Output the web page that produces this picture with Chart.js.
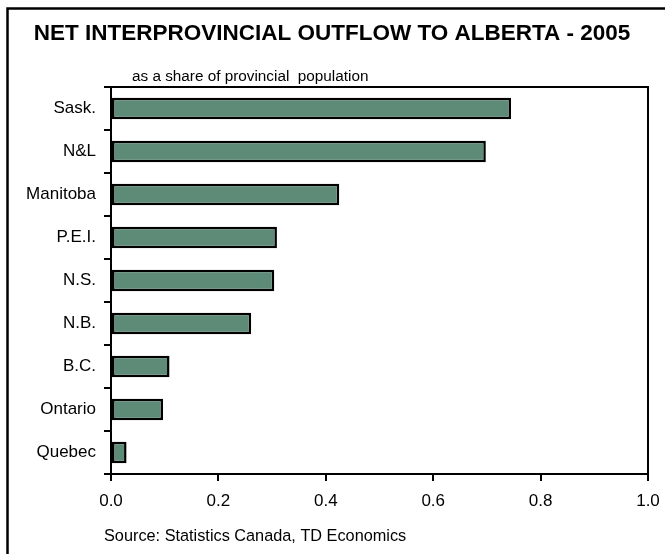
<!DOCTYPE html>
<html>
<head>
<meta charset="utf-8">
<script src="https://cdn.jsdelivr.net/npm/chart.js@4/dist/chart.umd.min.js"></script>
<style>
html,body{margin:0;padding:0;background:#fff;}
#wrap{position:relative;width:665px;height:554px;}
</style>
</head>
<body>
<div id="wrap"><canvas id="c" width="665" height="554"></canvas></div>
<script>
const categories = ["Sask.", "N&L", "Manitoba", "P.E.I.", "N.S.", "N.B.", "B.C.", "Ontario", "Quebec"];
const outflowShare = [0.745, 0.698, 0.425, 0.309, 0.304, 0.261, 0.109, 0.097, 0.029];
const xTicks = [0.0, 0.2, 0.4, 0.6, 0.8, 1.0];
const titleText = "NET INTERPROVINCIAL OUTFLOW TO ALBERTA - 2005";
const subtitleText = "as a share of provincial  population";
const sourceText = "Source: Statistics Canada, TD Economics";

const FONT = "'Liberation Sans', Arial, sans-serif";

const decor = {
  id: 'decor',
  beforeDraw(chart) {
    const ctx = chart.ctx;
    ctx.save();
    ctx.fillStyle = '#fff';
    ctx.fillRect(0, 0, chart.width, chart.height);
    ctx.restore();
  },
  afterDraw(chart) {
    const ctx = chart.ctx;
    const a = chart.chartArea;
    ctx.save();
    // outer frame (top and left visible)
    ctx.strokeStyle = '#000';
    ctx.lineWidth = 2.5;
    ctx.beginPath();
    ctx.moveTo(7.5, chart.height + 5);
    ctx.lineTo(7.5, 8.5);
    ctx.lineTo(chart.width + 5, 8.5);
    ctx.stroke();
    // plot box top and right
    ctx.lineWidth = 2;
    ctx.beginPath();
    ctx.moveTo(a.left, a.top);
    ctx.lineTo(a.right, a.top);
    ctx.lineTo(a.right, a.bottom);
    ctx.stroke();
    // texts
    ctx.fillStyle = '#000';
    ctx.textBaseline = 'middle';
    ctx.textAlign = 'center';
    ctx.font = 'bold 22.5px ' + FONT;
    ctx.fillText(titleText, 332, 34);
    ctx.textAlign = 'left';
    ctx.font = '15.3px ' + FONT;
    ctx.fillText(subtitleText, 132, 77);
    ctx.font = '16.3px ' + FONT;
    ctx.fillText(sourceText, 104, 537);
    ctx.restore();
  }
};

new Chart(document.getElementById('c'), {
  type: 'bar',
  data: {
    labels: categories,
    datasets: [{
      data: outflowShare,
      backgroundColor: '#5E8A78',
      borderColor: '#000',
      borderWidth: 2.5,
      borderSkipped: false,
      barPercentage: 0.5,
      categoryPercentage: 1.0
    }]
  },
  options: {
    indexAxis: 'y',
    responsive: false,
    animation: false,
    devicePixelRatio: 1,
    layout: { padding: { top: 87, left: 0, right: 17, bottom: 40 } },
    plugins: { legend: { display: false }, tooltip: { enabled: false }, title: { display: false } },
    scales: {
      x: {
        type: 'linear',
        min: 0, max: 1,
        afterBuildTicks(scale) { scale.ticks = xTicks.map(v => ({ value: v })); },
        afterFit(scale) { scale.height = 40; scale.paddingLeft = 0; scale.paddingRight = 0; },
        border: { display: true, color: '#000', width: 2 },
        grid: { drawOnChartArea: false, drawTicks: true, tickLength: 7, color: '#000', lineWidth: 2 },
        ticks: {
          color: '#000',
          font: { family: FONT, size: 17 },
          padding: 10,
          callback: v => Number(v).toFixed(1),
          maxRotation: 0
        }
      },
      y: {
        type: 'category',
        offset: true,
        afterFit(scale) { scale.width = 111; scale.paddingTop = 0; scale.paddingBottom = 0; },
        border: { display: true, color: '#000', width: 2 },
        grid: { offset: true, drawOnChartArea: false, drawTicks: true, tickLength: 7, color: '#000', lineWidth: 2 },
        ticks: {
          color: '#000',
          font: { family: FONT, size: 17 },
          padding: 8
        }
      }
    }
  },
  plugins: [decor]
});
</script>
</body>
</html>
